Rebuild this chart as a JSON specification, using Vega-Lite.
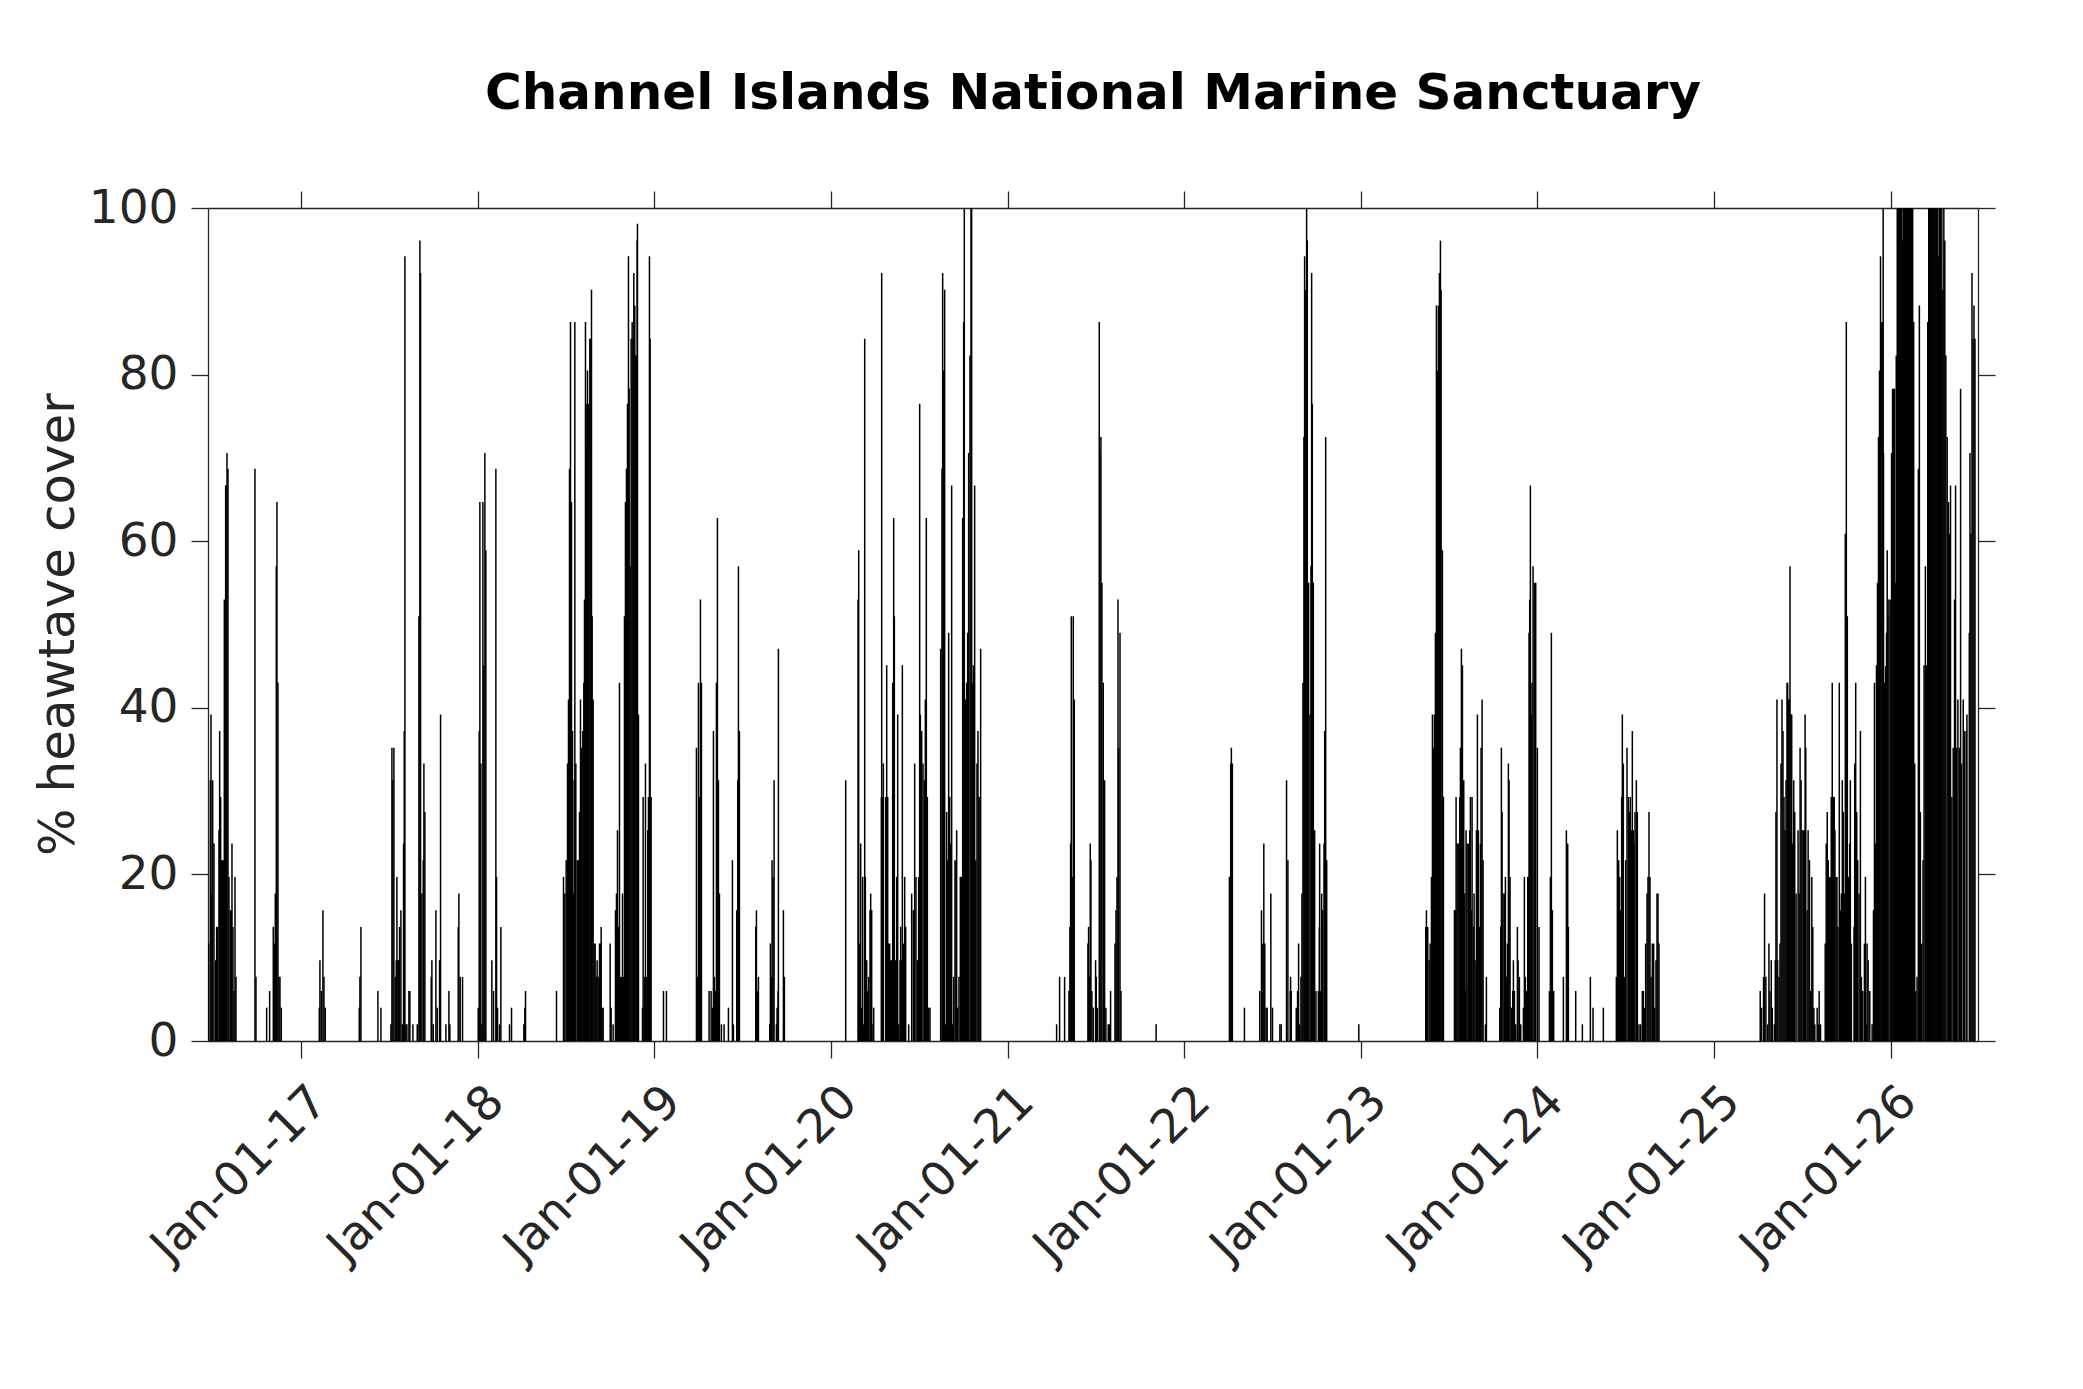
{
  "$schema": "https://vega.github.io/schema/vega-lite/v6.json",
  "width": 1770,
  "height": 833,
  "autosize": {"type": "none"},
  "padding": {"left": 208, "top": 208, "right": 105, "bottom": 348},
  "background": "white",
  "config": {"view": {"stroke": null}, "font": "DejaVu Sans"},
  "title": {
    "text": "Channel Islands National Marine Sanctuary",
    "font": "DejaVu Sans",
    "fontSize": 50,
    "fontWeight": "bold",
    "color": "#000000",
    "anchor": "middle",
    "baseline": "alphabetic",
    "offset": 25
  },
  "data": {"values": [
    {"t":2016.4754,"v":11.7},{"t":2016.4849,"v":31.3},{"t":2016.4887,"v":39.2},{"t":2016.4943,"v":17.7},{"t":2016.4981,"v":31.3},
    {"t":2016.5056,"v":23.7},{"t":2016.5151,"v":9.7},{"t":2016.5207,"v":13.7},{"t":2016.5264,"v":13.7},{"t":2016.5339,"v":25.3},
    {"t":2016.5377,"v":37.2},{"t":2016.5434,"v":29.3},{"t":2016.549,"v":21.7},{"t":2016.5547,"v":21.7},{"t":2016.5604,"v":21.7},
    {"t":2016.5641,"v":53},{"t":2016.5717,"v":66.7},{"t":2016.5754,"v":66.7},{"t":2016.5792,"v":70.6},{"t":2016.5849,"v":68.7},
    {"t":2016.5905,"v":19.7},{"t":2016.5981,"v":15.7},{"t":2016.6037,"v":15.7},{"t":2016.6075,"v":23.7},{"t":2016.6132,"v":13.7},
    {"t":2016.6188,"v":6},{"t":2016.6245,"v":19.7},{"t":2016.6302,"v":7.7},
    {"t":2016.7377,"v":68.7},{"t":2016.7434,"v":7.7},{"t":2016.8038,"v":4},{"t":2016.8207,"v":6},{"t":2016.8415,"v":13.7},
    {"t":2016.8471,"v":11.7},{"t":2016.8528,"v":17.7},{"t":2016.8585,"v":57},{"t":2016.8622,"v":64.7},{"t":2016.8679,"v":43},
    {"t":2016.8736,"v":7.7},{"t":2016.8792,"v":7.7},{"t":2016.8868,"v":4},
    {"t":2017.1019,"v":4},{"t":2017.1056,"v":9.7},{"t":2017.1132,"v":6},{"t":2017.1226,"v":15.7},{"t":2017.1283,"v":7.7},{"t":2017.1358,"v":4},
    {"t":2017.3283,"v":4},{"t":2017.332,"v":7.7},{"t":2017.3377,"v":13.7},{"t":2017.4339,"v":6},{"t":2017.4509,"v":4},
    {"t":2017.5075,"v":2},{"t":2017.5132,"v":35.2},{"t":2017.5188,"v":31.3},{"t":2017.5245,"v":35.2},{"t":2017.5321,"v":7.7},
    {"t":2017.5377,"v":9.7},{"t":2017.5415,"v":19.7},{"t":2017.5471,"v":9.7},{"t":2017.5509,"v":9.7},{"t":2017.5566,"v":13.7},
    {"t":2017.5641,"v":15.7},{"t":2017.5717,"v":2},{"t":2017.5792,"v":23.7},{"t":2017.583,"v":37.2},{"t":2017.5868,"v":94.2},
    {"t":2017.5924,"v":2},{"t":2017.5981,"v":2},{"t":2017.6094,"v":6},{"t":2017.6151,"v":6},{"t":2017.6321,"v":2},
    {"t":2017.6566,"v":2},{"t":2017.666,"v":51},{"t":2017.6717,"v":96.1},{"t":2017.6755,"v":92.2},{"t":2017.683,"v":17.7},
    {"t":2017.6906,"v":21.7},{"t":2017.6943,"v":33.3},{"t":2017.7,"v":27.5},
    {"t":2017.7358,"v":7.7},{"t":2017.7396,"v":9.7},{"t":2017.7472,"v":2},{"t":2017.7623,"v":15.7},{"t":2017.7698,"v":4},
    {"t":2017.783,"v":9.7},{"t":2017.7887,"v":39.2},{"t":2017.8189,"v":2},{"t":2017.8358,"v":6},{"t":2017.8415,"v":2},
    {"t":2017.8887,"v":13.7},{"t":2017.8924,"v":17.7},{"t":2017.9,"v":7.7},{"t":2017.9132,"v":7.7},
    {"t":2018.0019,"v":4},{"t":2018.0075,"v":37.2},{"t":2018.0113,"v":64.7},{"t":2018.017,"v":33.3},{"t":2018.0226,"v":2},
    {"t":2018.0283,"v":64.7},{"t":2018.034,"v":45.1},{"t":2018.0396,"v":70.6},{"t":2018.0453,"v":58.9},{"t":2018.0792,"v":9.7},
    {"t":2018.0887,"v":6},{"t":2018.1019,"v":68.7},{"t":2018.1057,"v":19.7},{"t":2018.1113,"v":4},{"t":2018.1226,"v":2},
    {"t":2018.1302,"v":13.7},{"t":2018.1792,"v":2},{"t":2018.1906,"v":4},
    {"t":2018.2604,"v":2},{"t":2018.266,"v":4},{"t":2018.2698,"v":6},{"t":2018.4453,"v":6},
    {"t":2018.4849,"v":19.7},{"t":2018.4925,"v":17.7},{"t":2018.5,"v":21.7},{"t":2018.5076,"v":33.3},{"t":2018.5132,"v":41},
    {"t":2018.5189,"v":68.7},{"t":2018.5245,"v":86.3},{"t":2018.5302,"v":64.7},{"t":2018.5358,"v":37.2},{"t":2018.5415,"v":17.7},
    {"t":2018.5453,"v":31.3},{"t":2018.5491,"v":86.3},{"t":2018.5547,"v":33.3},{"t":2018.5623,"v":21.7},{"t":2018.5698,"v":21.7},
    {"t":2018.5755,"v":27.5},{"t":2018.5811,"v":41},{"t":2018.5868,"v":35.2},{"t":2018.5943,"v":37.2},{"t":2018.6,"v":43},
    {"t":2018.6038,"v":53},{"t":2018.6094,"v":86.3},{"t":2018.6132,"v":76.5},{"t":2018.617,"v":70.6},{"t":2018.6208,"v":80.5},
    {"t":2018.6264,"v":76.5},{"t":2018.634,"v":84.3},{"t":2018.6396,"v":84.3},{"t":2018.6434,"v":90.2},{"t":2018.6472,"v":51},
    {"t":2018.6528,"v":41},{"t":2018.6585,"v":11.7},{"t":2018.6642,"v":11.7},{"t":2018.6698,"v":7.7},{"t":2018.6755,"v":9.7},
    {"t":2018.6811,"v":7.7},{"t":2018.6887,"v":11.7},{"t":2018.6943,"v":11.7},{"t":2018.6981,"v":13.7},{"t":2018.7038,"v":4},
    {"t":2018.7094,"v":4},{"t":2018.7491,"v":11.7},{"t":2018.7547,"v":4},{"t":2018.766,"v":2},
    {"t":2018.7792,"v":15.7},{"t":2018.7849,"v":17.7},{"t":2018.7906,"v":25.3},{"t":2018.7962,"v":13.7},{"t":2018.8019,"v":43},
    {"t":2018.8075,"v":7.7},{"t":2018.8132,"v":7.7},{"t":2018.8189,"v":17.7},{"t":2018.8245,"v":7.7},{"t":2018.8302,"v":51},
    {"t":2018.8358,"v":64.7},{"t":2018.8415,"v":68.7},{"t":2018.8472,"v":76.5},{"t":2018.8528,"v":94.2},{"t":2018.8566,"v":78.3},
    {"t":2018.8623,"v":57},{"t":2018.8679,"v":84.3},{"t":2018.8736,"v":86.3},{"t":2018.8792,"v":84.3},{"t":2018.883,"v":92.2},
    {"t":2018.8887,"v":88.3},{"t":2018.8943,"v":82.3},{"t":2018.8981,"v":82.3},{"t":2018.9019,"v":96.1},{"t":2018.9038,"v":98.1},
    {"t":2018.9094,"v":39.2},{"t":2018.9321,"v":4},{"t":2018.9358,"v":29.3},{"t":2018.9434,"v":7.7},{"t":2018.9491,"v":33.3},
    {"t":2018.9566,"v":7.7},{"t":2018.9623,"v":25.3},{"t":2018.966,"v":29.3},{"t":2018.9717,"v":94.2},{"t":2018.9755,"v":84.3},
    {"t":2018.9811,"v":29.3},{"t":2019.051,"v":6},{"t":2019.0679,"v":6},
    {"t":2019.2377,"v":35.2},{"t":2019.2434,"v":7.7},{"t":2019.2491,"v":43},{"t":2019.2547,"v":29.3},{"t":2019.2604,"v":53},
    {"t":2019.266,"v":43},{"t":2019.3094,"v":6},{"t":2019.3208,"v":6},{"t":2019.3283,"v":4},{"t":2019.334,"v":37.2},
    {"t":2019.3396,"v":7.7},{"t":2019.3453,"v":6},{"t":2019.3509,"v":43},{"t":2019.3566,"v":62.8},{"t":2019.3623,"v":31.3},
    {"t":2019.3679,"v":17.7},{"t":2019.3792,"v":2},{"t":2019.3943,"v":2},{"t":2019.4189,"v":4},{"t":2019.4415,"v":21.7},
    {"t":2019.4472,"v":2},{"t":2019.466,"v":15.7},{"t":2019.4717,"v":31.3},{"t":2019.4755,"v":57},{"t":2019.4811,"v":37.2},
    {"t":2019.5736,"v":13.7},{"t":2019.5774,"v":15.7},{"t":2019.5849,"v":6},{"t":2019.5887,"v":7.7},
    {"t":2019.6528,"v":2},{"t":2019.6566,"v":11.7},{"t":2019.6623,"v":7.7},{"t":2019.666,"v":21.7},{"t":2019.6717,"v":19.7},
    {"t":2019.6774,"v":31.3},{"t":2019.6906,"v":2},{"t":2019.6943,"v":4},{"t":2019.7,"v":6},{"t":2019.7019,"v":47.1},
    {"t":2019.7302,"v":15.7},{"t":2019.7358,"v":7.7},
    {"t":2020.083,"v":31.3},{"t":2020.1528,"v":53},{"t":2020.1566,"v":58.9},{"t":2020.1623,"v":11.7},{"t":2020.1679,"v":23.7},
    {"t":2020.1736,"v":4},{"t":2020.1792,"v":19.7},{"t":2020.1849,"v":2},{"t":2020.1906,"v":84.3},{"t":2020.1943,"v":19.7},
    {"t":2020.2019,"v":9.7},{"t":2020.2075,"v":6},{"t":2020.2132,"v":7.7},{"t":2020.2208,"v":15.7},{"t":2020.2245,"v":17.7},
    {"t":2020.2302,"v":15.7},{"t":2020.2377,"v":2},{"t":2020.2415,"v":4},
    {"t":2020.2849,"v":29.3},{"t":2020.2868,"v":92.2},{"t":2020.2906,"v":29.3},{"t":2020.2962,"v":33.3},{"t":2020.3094,"v":29.3},
    {"t":2020.3151,"v":45.1},{"t":2020.3208,"v":29.3},{"t":2020.3264,"v":11.7},{"t":2020.3321,"v":11.7},{"t":2020.3377,"v":9.7},
    {"t":2020.3434,"v":9.7},{"t":2020.3491,"v":43},{"t":2020.3547,"v":62.8},{"t":2020.3585,"v":51},{"t":2020.366,"v":9.7},
    {"t":2020.3717,"v":19.7},{"t":2020.3774,"v":39.2},{"t":2020.383,"v":2},{"t":2020.3906,"v":9.7},{"t":2020.3943,"v":13.7},
    {"t":2020.4,"v":9.7},{"t":2020.4038,"v":45.1},{"t":2020.4094,"v":11.7},{"t":2020.417,"v":19.7},{"t":2020.4226,"v":13.7},
    {"t":2020.4396,"v":2},{"t":2020.4566,"v":17.7},{"t":2020.466,"v":15.7},{"t":2020.4736,"v":33.3},{"t":2020.4811,"v":19.7},
    {"t":2020.4887,"v":9.7},{"t":2020.4962,"v":19.7},{"t":2020.5019,"v":76.5},{"t":2020.5057,"v":39.2},{"t":2020.5132,"v":37.2},
    {"t":2020.5208,"v":33.3},{"t":2020.5283,"v":31.3},{"t":2020.534,"v":41},{"t":2020.5396,"v":62.8},{"t":2020.5453,"v":29.3},
    {"t":2020.5528,"v":4},{"t":2020.5604,"v":4},
    {"t":2020.6208,"v":47.1},{"t":2020.6283,"v":68.7},{"t":2020.6321,"v":92.2},{"t":2020.6377,"v":80.5},{"t":2020.6434,"v":90.2},
    {"t":2020.6491,"v":2},{"t":2020.6547,"v":27.5},{"t":2020.6604,"v":21.7},{"t":2020.666,"v":49},{"t":2020.6717,"v":29.3},
    {"t":2020.6774,"v":23.7},{"t":2020.683,"v":66.7},{"t":2020.6887,"v":2},{"t":2020.6943,"v":7.7},{"t":2020.7019,"v":21.7},
    {"t":2020.7075,"v":21.7},{"t":2020.7113,"v":25.3},{"t":2020.717,"v":4},{"t":2020.7245,"v":7.7},{"t":2020.7321,"v":19.7},
    {"t":2020.7377,"v":19.7},{"t":2020.7453,"v":62.8},{"t":2020.7509,"v":86.3},{"t":2020.7547,"v":100},{"t":2020.7604,"v":41},
    {"t":2020.7679,"v":43},{"t":2020.7736,"v":49},{"t":2020.7792,"v":70.6},{"t":2020.7868,"v":82.3},{"t":2020.7925,"v":100},
    {"t":2020.7962,"v":100},{"t":2020.8,"v":43},{"t":2020.8057,"v":45.1},{"t":2020.8094,"v":21.7},{"t":2020.8132,"v":66.7},
    {"t":2020.8189,"v":21.7},{"t":2020.8264,"v":33.3},{"t":2020.8321,"v":37.2},{"t":2020.8377,"v":29.3},{"t":2020.8434,"v":29.3},
    {"t":2020.8472,"v":47.1},
    {"t":2021.2774,"v":2},{"t":2021.2943,"v":7.7},{"t":2021.3226,"v":7.7},{"t":2021.3472,"v":6},{"t":2021.3528,"v":13.7},
    {"t":2021.3566,"v":23.7},{"t":2021.3604,"v":51},{"t":2021.366,"v":19.7},{"t":2021.3717,"v":51},{"t":2021.3774,"v":41},
    {"t":2021.4547,"v":11.7},{"t":2021.4585,"v":13.7},{"t":2021.4642,"v":7.7},{"t":2021.4679,"v":23.7},{"t":2021.4717,"v":21.7},
    {"t":2021.4774,"v":6},{"t":2021.4849,"v":4},{"t":2021.4981,"v":9.7},{"t":2021.5019,"v":7.7},{"t":2021.5075,"v":4},
    {"t":2021.5189,"v":86.3},{"t":2021.5226,"v":70.6},{"t":2021.5283,"v":72.5},{"t":2021.534,"v":55},{"t":2021.5415,"v":43},
    {"t":2021.5491,"v":31.3},{"t":2021.5566,"v":4},{"t":2021.5698,"v":2},{"t":2021.5774,"v":2},{"t":2021.583,"v":6},
    {"t":2021.608,"v":11.7},{"t":2021.6136,"v":15.7},{"t":2021.6193,"v":19.7},{"t":2021.625,"v":53},{"t":2021.6288,"v":35.2},
    {"t":2021.6364,"v":49},{"t":2021.642,"v":6},{"t":2021.8409,"v":2},
    {"t":2022.2557,"v":19.7},{"t":2022.2633,"v":33.3},{"t":2022.267,"v":35.2},{"t":2022.2727,"v":33.3},{"t":2022.3409,"v":4},
    {"t":2022.428,"v":6},{"t":2022.4375,"v":15.7},{"t":2022.4451,"v":11.7},{"t":2022.4508,"v":23.7},{"t":2022.4564,"v":11.7},
    {"t":2022.464,"v":4},{"t":2022.4697,"v":4},{"t":2022.4905,"v":17.7},{"t":2022.5,"v":4},{"t":2022.5417,"v":2},
    {"t":2022.5492,"v":2},{"t":2022.5795,"v":31.3},{"t":2022.5871,"v":21.7},{"t":2022.6004,"v":6},{"t":2022.6023,"v":7.7},
    {"t":2022.6061,"v":6},{"t":2022.6345,"v":4},{"t":2022.642,"v":6},{"t":2022.6477,"v":11.7},{"t":2022.6534,"v":2},
    {"t":2022.661,"v":7.7},{"t":2022.6667,"v":17.7},{"t":2022.6723,"v":43},{"t":2022.678,"v":72.5},{"t":2022.6818,"v":94.2},
    {"t":2022.6875,"v":90.2},{"t":2022.6932,"v":100},{"t":2022.697,"v":96.1},{"t":2022.7045,"v":55},{"t":2022.7121,"v":39.2},
    {"t":2022.7178,"v":57},{"t":2022.7216,"v":92.2},{"t":2022.7254,"v":76.5},{"t":2022.7311,"v":55},{"t":2022.7386,"v":25.3},
    {"t":2022.7462,"v":6},{"t":2022.7595,"v":6},{"t":2022.7652,"v":13.7},{"t":2022.767,"v":23.7},{"t":2022.7727,"v":6},
    {"t":2022.7784,"v":17.7},{"t":2022.7841,"v":15.7},{"t":2022.7917,"v":23.7},{"t":2022.7955,"v":37.2},{"t":2022.8011,"v":72.5},
    {"t":2022.8068,"v":21.7},{"t":2022.9886,"v":2},
    {"t":2023.3679,"v":13.7},{"t":2023.3717,"v":15.7},{"t":2023.3792,"v":13.7},{"t":2023.3868,"v":9.7},{"t":2023.3925,"v":11.7},
    {"t":2023.4,"v":19.7},{"t":2023.4057,"v":39.2},{"t":2023.4113,"v":35.2},{"t":2023.417,"v":39.2},{"t":2023.4226,"v":49},
    {"t":2023.4283,"v":88.3},{"t":2023.434,"v":80.5},{"t":2023.4396,"v":88.3},{"t":2023.4453,"v":92.2},{"t":2023.4509,"v":96.1},
    {"t":2023.4547,"v":90.2},{"t":2023.4623,"v":58.9},{"t":2023.4679,"v":29.3},
    {"t":2023.5302,"v":15.7},{"t":2023.5358,"v":15.7},{"t":2023.5396,"v":29.3},{"t":2023.5453,"v":23.7},{"t":2023.5509,"v":23.7},
    {"t":2023.5566,"v":23.7},{"t":2023.5604,"v":29.3},{"t":2023.5642,"v":35.2},{"t":2023.5698,"v":47.1},{"t":2023.5755,"v":45.1},
    {"t":2023.583,"v":31.3},{"t":2023.5887,"v":17.7},{"t":2023.5925,"v":6},{"t":2023.5962,"v":25.3},{"t":2023.6019,"v":23.7},
    {"t":2023.6094,"v":23.7},{"t":2023.617,"v":25.3},{"t":2023.6208,"v":29.3},{"t":2023.6264,"v":15.7},{"t":2023.6302,"v":29.3},
    {"t":2023.6377,"v":13.7},{"t":2023.6415,"v":17.7},{"t":2023.6472,"v":9.7},{"t":2023.6547,"v":25.3},{"t":2023.6604,"v":39.2},
    {"t":2023.666,"v":25.3},{"t":2023.6736,"v":13.7},{"t":2023.6774,"v":23.7},{"t":2023.6811,"v":35.2},{"t":2023.6868,"v":41},
    {"t":2023.6925,"v":21.7},{"t":2023.7057,"v":2},{"t":2023.7113,"v":7.7},
    {"t":2023.7868,"v":4},{"t":2023.7925,"v":13.7},{"t":2023.7962,"v":35.2},{"t":2023.8,"v":27.5},{"t":2023.8057,"v":17.7},
    {"t":2023.8132,"v":17.7},{"t":2023.8189,"v":19.7},{"t":2023.8245,"v":7.7},{"t":2023.8302,"v":11.7},{"t":2023.8358,"v":33.3},
    {"t":2023.8396,"v":31.3},{"t":2023.8453,"v":19.7},{"t":2023.8528,"v":4},{"t":2023.8604,"v":6},{"t":2023.8642,"v":9.7},
    {"t":2023.8698,"v":6},{"t":2023.8774,"v":2},{"t":2023.8868,"v":13.7},{"t":2023.8906,"v":9.7},{"t":2023.8981,"v":7.7},
    {"t":2023.9057,"v":2},{"t":2023.9208,"v":4},{"t":2023.9264,"v":19.7},{"t":2023.9321,"v":7.7},{"t":2023.9396,"v":6},
    {"t":2023.9453,"v":19.7},{"t":2023.9491,"v":19.7},{"t":2023.9528,"v":49},{"t":2023.9566,"v":53},{"t":2023.9604,"v":66.7},
    {"t":2023.966,"v":39.2},{"t":2023.9698,"v":43},{"t":2023.9755,"v":57},{"t":2023.983,"v":55},{"t":2023.9906,"v":55},
    {"t":2024.0,"v":35.2},{"t":2024.0094,"v":13.7},
    {"t":2024.0679,"v":6},{"t":2024.0736,"v":19.7},{"t":2024.0792,"v":49},{"t":2024.0849,"v":15.7},{"t":2024.0925,"v":6},
    {"t":2024.1472,"v":7.7},{"t":2024.1642,"v":25.3},{"t":2024.1717,"v":23.7},{"t":2024.1755,"v":13.7},{"t":2024.217,"v":6},
    {"t":2024.2547,"v":2},{"t":2024.3,"v":7.7},{"t":2024.3151,"v":4},{"t":2024.3736,"v":4},
    {"t":2024.4472,"v":7.7},{"t":2024.4528,"v":25.3},{"t":2024.4604,"v":21.7},{"t":2024.466,"v":19.7},{"t":2024.4717,"v":15.7},
    {"t":2024.4774,"v":29.3},{"t":2024.4811,"v":39.2},{"t":2024.4868,"v":33.3},{"t":2024.4943,"v":7.7},{"t":2024.5,"v":21.7},
    {"t":2024.5075,"v":35.2},{"t":2024.5151,"v":29.3},{"t":2024.5208,"v":27.5},{"t":2024.5264,"v":29.3},{"t":2024.534,"v":25.3},
    {"t":2024.5377,"v":37.2},{"t":2024.5434,"v":25.3},{"t":2024.5472,"v":23.7},{"t":2024.5528,"v":27.5},{"t":2024.5604,"v":31.3},
    {"t":2024.566,"v":27.5},{"t":2024.5755,"v":2},{"t":2024.5849,"v":2},{"t":2024.5943,"v":6},{"t":2024.6,"v":6},
    {"t":2024.6057,"v":4},{"t":2024.6132,"v":11.7},{"t":2024.6208,"v":17.7},{"t":2024.6264,"v":19.7},{"t":2024.6321,"v":27.5},
    {"t":2024.6377,"v":19.7},{"t":2024.6434,"v":7.7},{"t":2024.6509,"v":11.7},{"t":2024.6585,"v":11.7},{"t":2024.6642,"v":4},
    {"t":2024.6717,"v":9.7},{"t":2024.6774,"v":17.7},{"t":2024.683,"v":17.7},{"t":2024.6887,"v":11.7},
    {"t":2025.2619,"v":6},{"t":2025.2695,"v":4},{"t":2025.2808,"v":7.7},{"t":2025.2865,"v":17.7},{"t":2025.2941,"v":7.7},
    {"t":2025.3036,"v":2},{"t":2025.3112,"v":11.7},{"t":2025.3169,"v":6},{"t":2025.3245,"v":9.7},{"t":2025.3302,"v":4},
    {"t":2025.3416,"v":2},{"t":2025.3472,"v":9.7},{"t":2025.351,"v":27.5},{"t":2025.3567,"v":41},{"t":2025.3605,"v":9.7},
    {"t":2025.3681,"v":7.7},{"t":2025.3738,"v":11.7},{"t":2025.3795,"v":33.3},{"t":2025.3852,"v":41},{"t":2025.3909,"v":37.2},
    {"t":2025.3966,"v":29.3},{"t":2025.4023,"v":25.3},{"t":2025.408,"v":31.3},{"t":2025.4137,"v":43},{"t":2025.4175,"v":43},
    {"t":2025.4213,"v":41},{"t":2025.4269,"v":41},{"t":2025.4307,"v":57},{"t":2025.4364,"v":39.2},{"t":2025.4402,"v":39.2},
    {"t":2025.4459,"v":23.7},{"t":2025.4516,"v":31.3},{"t":2025.4573,"v":27.5},{"t":2025.4649,"v":17.7},{"t":2025.4763,"v":25.3},
    {"t":2025.482,"v":17.7},{"t":2025.4877,"v":35.2},{"t":2025.4934,"v":31.3},{"t":2025.499,"v":25.3},{"t":2025.5066,"v":25.3},
    {"t":2025.5123,"v":25.3},{"t":2025.5161,"v":39.2},{"t":2025.5199,"v":35.2},{"t":2025.5275,"v":15.7},{"t":2025.5332,"v":25.3},
    {"t":2025.5408,"v":21.7},{"t":2025.5484,"v":6},{"t":2025.5541,"v":19.7},{"t":2025.5598,"v":13.7},{"t":2025.5655,"v":4},
    {"t":2025.5712,"v":2},{"t":2025.5844,"v":4},{"t":2025.5901,"v":2},{"t":2025.5958,"v":6},{"t":2025.6034,"v":2},
    {"t":2025.63,"v":11.7},{"t":2025.6357,"v":23.7},{"t":2025.6414,"v":27.5},{"t":2025.6471,"v":21.7},{"t":2025.6527,"v":19.7},
    {"t":2025.6584,"v":19.7},{"t":2025.6641,"v":29.3},{"t":2025.6698,"v":43},{"t":2025.6755,"v":29.3},{"t":2025.6812,"v":29.3},
    {"t":2025.685,"v":25.3},{"t":2025.6907,"v":19.7},{"t":2025.6964,"v":19.7},{"t":2025.7021,"v":13.7},{"t":2025.7097,"v":43},
    {"t":2025.7154,"v":15.7},{"t":2025.7211,"v":17.7},{"t":2025.7267,"v":31.3},{"t":2025.7324,"v":27.5},{"t":2025.7381,"v":17.7},
    {"t":2025.7438,"v":60.9},{"t":2025.7495,"v":86.3},{"t":2025.7552,"v":51},{"t":2025.7609,"v":19.7},{"t":2025.7685,"v":23.7},
    {"t":2025.7723,"v":31.3},{"t":2025.778,"v":11.7},{"t":2025.7932,"v":13.7},{"t":2025.797,"v":33.3},{"t":2025.8007,"v":27.5},
    {"t":2025.8026,"v":43},{"t":2025.8083,"v":27.5},{"t":2025.814,"v":21.7},{"t":2025.8216,"v":17.7},{"t":2025.8292,"v":37.2},
    {"t":2025.8349,"v":7.7},{"t":2025.8425,"v":6},{"t":2025.852,"v":11.7},{"t":2025.8577,"v":19.7},{"t":2025.8634,"v":2},
    {"t":2025.8672,"v":11.7},{"t":2025.8729,"v":9.7},{"t":2025.8823,"v":6},{"t":2025.8956,"v":2},{"t":2025.9032,"v":15.7},
    {"t":2025.9089,"v":43},{"t":2025.9146,"v":23.7},{"t":2025.9203,"v":45.1},{"t":2025.926,"v":55},{"t":2025.9317,"v":72.5},
    {"t":2025.9374,"v":80.5},{"t":2025.9431,"v":94.2},{"t":2025.9507,"v":86.3},{"t":2025.9544,"v":86.3},{"t":2025.9582,"v":100},
    {"t":2025.9601,"v":70.6},{"t":2025.9658,"v":43},{"t":2025.9715,"v":45},{"t":2025.9772,"v":49},{"t":2025.981,"v":58.9},
    {"t":2025.9848,"v":51},{"t":2025.9905,"v":53},{"t":2025.9981,"v":53},{"t":2026.0057,"v":70.6},{"t":2026.0114,"v":78.3},
    {"t":2026.0171,"v":78.3},{"t":2026.0228,"v":78.3},{"t":2026.0266,"v":55},{"t":2026.0322,"v":82.3},{"t":2026.0379,"v":100},
    {"t":2026.0436,"v":100},{"t":2026.0493,"v":100},{"t":2026.055,"v":100},{"t":2026.0607,"v":100},{"t":2026.0645,"v":100},
    {"t":2026.0683,"v":96.1},{"t":2026.074,"v":100},{"t":2026.0797,"v":100},{"t":2026.0854,"v":100},{"t":2026.0911,"v":100},
    {"t":2026.0968,"v":100},{"t":2026.1025,"v":100},{"t":2026.1081,"v":100},{"t":2026.1138,"v":100},{"t":2026.1195,"v":100},
    {"t":2026.1252,"v":100},{"t":2026.1309,"v":86.3},{"t":2026.1366,"v":33.3},{"t":2026.1423,"v":6},{"t":2026.1499,"v":7.7},
    {"t":2026.1575,"v":68.7},{"t":2026.1632,"v":88.3},{"t":2026.1689,"v":27.5},{"t":2026.1765,"v":11.7},{"t":2026.184,"v":21.7},
    {"t":2026.1897,"v":45.1},{"t":2026.1973,"v":57},{"t":2026.203,"v":45.1},{"t":2026.2106,"v":86.3},{"t":2026.2163,"v":100},
    {"t":2026.222,"v":100},{"t":2026.2277,"v":100},{"t":2026.2334,"v":100},{"t":2026.2391,"v":100},{"t":2026.2448,"v":100},
    {"t":2026.2505,"v":100},{"t":2026.2561,"v":100},{"t":2026.2618,"v":100},{"t":2026.2675,"v":100},{"t":2026.2713,"v":94.2},
    {"t":2026.277,"v":100},{"t":2026.2827,"v":100},{"t":2026.2865,"v":88.3},{"t":2026.2903,"v":100},{"t":2026.296,"v":90.2},
    {"t":2026.3017,"v":100},{"t":2026.3074,"v":96.1},{"t":2026.3131,"v":82.3},{"t":2026.3207,"v":72.5},{"t":2026.3282,"v":64.7},
    {"t":2026.3339,"v":60.9},{"t":2026.3396,"v":66.7},{"t":2026.3472,"v":29.3},{"t":2026.3548,"v":35.2},{"t":2026.3624,"v":53},
    {"t":2026.3681,"v":66.7},{"t":2026.3738,"v":35.2},{"t":2026.3814,"v":41},{"t":2026.389,"v":35.2},{"t":2026.3966,"v":78.3},
    {"t":2026.4023,"v":33.3},{"t":2026.4117,"v":41},{"t":2026.4193,"v":37.2},{"t":2026.4288,"v":37.2},{"t":2026.4326,"v":39.2},
    {"t":2026.4459,"v":49},{"t":2026.4497,"v":70.6},{"t":2026.4554,"v":60.9},{"t":2026.4611,"v":92.2},{"t":2026.4668,"v":84.3},
    {"t":2026.4725,"v":88.3},{"t":2026.4782,"v":84.3}
  ]},
  "layer": [
    {
      "mark": {"type": "rule", "color": "#000000", "strokeWidth": 1.5, "strokeCap": "butt", "clip": true},
      "encoding": {
        "x": {
          "field": "t",
          "type": "quantitative",
          "scale": {"domain": [2016.4717, 2026.4952], "nice": false, "zero": false},
          "axis": {
            "orient": "bottom",
            "title": null,
            "grid": false,
            "values": [2017, 2018, 2019, 2020, 2021, 2022, 2023, 2024, 2025, 2026],
            "labelExpr": "'Jan-01-' + format(datum.value - 2000, '02d')",
            "labelFont": "DejaVu Sans",
            "labelFontSize": 47,
            "labelColor": "#262626",
            "labelAngle": -45,
            "labelAlign": "right",
            "labelBaseline": "middle",
            "labelPadding": 36,
            "labelOffset": 18,
            "labelLimit": 0,
            "labelOverlap": false,
            "labelFlush": false,
            "labelBound": false,
            "tickSize": 17,
            "tickWidth": 1.3,
            "tickColor": "#262626",
            "domainColor": "#262626",
            "domainWidth": 1.3
          }
        },
        "y": {
          "field": "v",
          "type": "quantitative",
          "scale": {"domain": [0, 100], "nice": false},
          "axis": {
            "orient": "left",
            "title": "% heawtave cover",
            "titleFont": "DejaVu Sans",
            "titleFontSize": 50,
            "titleFontWeight": "normal",
            "titleColor": "#262626",
            "titleAngle": -90,
            "titleAlign": "center",
            "titleBaseline": "alphabetic",
            "titleX": -135,
            "titleY": 416,
            "grid": false,
            "values": [0, 20, 40, 60, 80, 100],
            "format": "d",
            "labelFont": "DejaVu Sans",
            "labelFontSize": 47,
            "labelColor": "#262626",
            "labelPadding": 13,
            "tickSize": 17,
            "tickWidth": 1.3,
            "tickColor": "#262626",
            "domainColor": "#262626",
            "domainWidth": 1.3
          }
        },
        "y2": {"datum": 0}
      }
    },
    {
      "mark": {"type": "rule", "opacity": 0},
      "encoding": {
        "x": {
          "field": "t",
          "type": "quantitative",
          "axis": {
            "orient": "top",
            "title": null,
            "grid": false,
            "labels": false,
            "values": [2017, 2018, 2019, 2020, 2021, 2022, 2023, 2024, 2025, 2026],
            "tickSize": 17,
            "tickWidth": 1.3,
            "tickColor": "#262626",
            "domainColor": "#262626",
            "domainWidth": 1.3
          }
        },
        "y": {
          "field": "v",
          "type": "quantitative",
          "axis": {
            "orient": "right",
            "title": null,
            "grid": false,
            "labels": false,
            "values": [0, 20, 40, 60, 80, 100],
            "tickSize": 17,
            "tickWidth": 1.3,
            "tickColor": "#262626",
            "domainColor": "#262626",
            "domainWidth": 1.3
          }
        },
        "y2": {"datum": 0}
      }
    }
  ],
  "resolve": {"axis": {"x": "independent", "y": "independent"}}
}
